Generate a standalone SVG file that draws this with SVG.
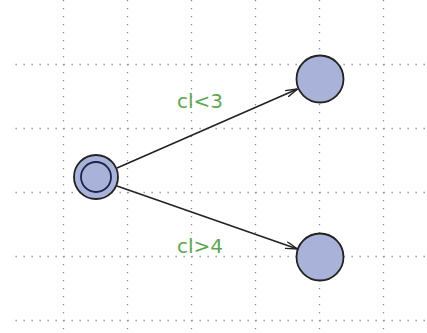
<svg xmlns="http://www.w3.org/2000/svg" width="427" height="333" viewBox="0 0 427 333">
<style>
.grid line{stroke:#8c8c8c;stroke-width:1.3;stroke-dasharray:1.3 6.7}
.loc{fill:#a9b3da;stroke:#222;stroke-width:1.8}
.inner{fill:none;stroke:#1c2448;stroke-width:1.8}
.edge{stroke:#222;stroke-width:1.6;fill:none;marker-end:url(#arr)}
.guard{font-family:"DejaVu Sans",Verdana,sans-serif;font-size:20px;fill:#5ea653}
</style>
<defs>
<marker id="arr" viewBox="0 0 12 8" refX="12" refY="4" markerWidth="12" markerHeight="8" markerUnits="userSpaceOnUse" orient="auto">
<path d="M0,0.5 L12,4 L0,7.5" fill="none" stroke="#222" stroke-width="1.4"/>
</marker>
</defs>
<rect width="427" height="333" fill="#fff"/>
<g class="grid">
<line x1="63.5" y1="0" x2="63.5" y2="333"/>
<line x1="127.5" y1="0" x2="127.5" y2="333"/>
<line x1="191.5" y1="0" x2="191.5" y2="333"/>
<line x1="255.5" y1="0" x2="255.5" y2="333"/>
<line x1="319.5" y1="0" x2="319.5" y2="333"/>
<line x1="383.5" y1="0" x2="383.5" y2="333"/>
<line x1="15.5" y1="64.5" x2="427" y2="64.5"/>
<line x1="15.5" y1="128.5" x2="427" y2="128.5"/>
<line x1="15.5" y1="192.5" x2="427" y2="192.5"/>
<line x1="15.5" y1="256.5" x2="427" y2="256.5"/>
<line x1="15.5" y1="320.5" x2="427" y2="320.5"/>
</g>
<g id="connectors">
<path class="edge" d="M117,168 L297.5,89"/>
<path class="edge" d="M117,186 L297.5,249"/>
</g>
<g id="edge-label-1"><text class="guard" x="177" y="108">cl&lt;3</text></g>
<g id="edge-label-2"><text class="guard" x="177" y="253">cl&gt;4</text></g>
<g id="init">
<circle class="loc" cx="96" cy="177" r="22"/>
<circle class="inner" cx="96" cy="177" r="15"/>
</g>
<g id="top">
<circle class="loc" cx="320" cy="79" r="23.5"/>
</g>
<g id="bottom">
<circle class="loc" cx="320" cy="257" r="23.5"/>
</g>
</svg>
